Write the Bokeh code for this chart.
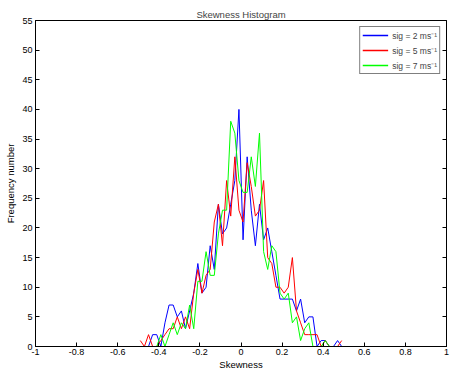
from bokeh.plotting import figure
from bokeh.models import Range1d, LinearAxis, FixedTicker, Legend, LegendItem
from bokeh.embed import file_html
from bokeh.resources import INLINE

# ---- data ----
bin_centers = [-0.49, -0.47, -0.45, -0.43, -0.41, -0.39, -0.37, -0.35, -0.33, -0.31,
               -0.29, -0.27, -0.25, -0.23, -0.21, -0.19, -0.17, -0.15, -0.13, -0.11,
               -0.09, -0.07, -0.05, -0.03, -0.01, 0.01, 0.03, 0.05, 0.07, 0.09,
               0.11, 0.13, 0.15, 0.17, 0.19, 0.21, 0.23, 0.25, 0.27, 0.29,
               0.31, 0.33, 0.35, 0.37, 0.39, 0.41, 0.43, 0.45, 0.47, 0.49]

sig2_counts = [0, 0, 0, 2, 2, 0, 4, 7, 7, 5, 6, 3, 6, 9, 14, 9, 10, 17, 13, 24, 19, 20, 24, 28, 40,
               18, 32, 23, 17, 24, 18, 20, 16, 12, 8, 8, 8, 8, 6, 8, 4, 5, 5, 0, 1, 1, 0, 0, 1, 0]
sig5_counts = [1, 0, 2, 0, 0, 1, 2, 3, 3, 5, 3, 5, 3, 9, 13, 9, 12, 13, 21, 24, 17, 28, 22, 32, 23,
               21, 31, 27, 22, 23, 28, 15, 14, 10, 10, 9, 10, 15, 6, 4, 2, 2, 2, 2, 0, 1, 0, 0, 0, 1]
sig7_counts = [0, 0, 0, 0, 0, 2, 0, 2, 4, 2, 4, 3, 7, 3, 11, 11, 16, 12, 12, 19, 23, 23, 38, 36, 28,
               26, 26, 32, 27, 36, 16, 13, 17, 16, 9, 8, 9, 4, 5, 1, 3, 4, 0, 0, 0, 1, 0, 0, 0, 0]

series_labels = ["sig = 2 ms\u207b\u00b9", "sig = 5 ms\u207b\u00b9", "sig = 7 ms\u207b\u00b9"]
series_colors = ["#0000ff", "#ff0000", "#00ff00"]

x_ticks = [-1, -0.8, -0.6, -0.4, -0.2, 0, 0.2, 0.4, 0.6, 0.8, 1]
x_tick_labels = ["-1", "-0.8", "-0.6", "-0.4", "-0.2", "0", "0.2", "0.4", "0.6", "0.8", "1"]
y_ticks = [0, 5, 10, 15, 20, 25, 30, 35, 40, 45, 50, 55]

FONT = "Liberation Sans"

p = figure(width=450, height=372, x_range=Range1d(-1, 1), y_range=Range1d(0, 55),
           output_backend="svg", toolbar_location=None, title="Skewness Histogram",
           min_border_left=35, min_border_right=4, min_border_top=20, min_border_bottom=0)

p.title.align = "center"
p.title.text_font = FONT
p.title.text_font_size = "9.5px"
p.title.text_font_style = "normal"
p.title.standoff = 2

p.xgrid.visible = False
p.ygrid.visible = False
p.outline_line_color = "black"
p.outline_line_width = 1
p.background_fill_color = "white"
p.border_fill_color = "white"

for ax in (p.xaxis[0], p.yaxis[0]):
    ax.major_tick_in = 4
    ax.major_tick_out = 0
    ax.minor_tick_line_color = None
    ax.axis_line_color = "black"
    ax.major_tick_line_color = "black"
    ax.major_label_text_font = FONT
    ax.major_label_text_font_size = "9px"
    ax.major_label_text_color = "black"
    ax.axis_label_text_font = FONT
    ax.axis_label_text_font_size = "9.5px"
    ax.axis_label_text_font_style = "normal"
    ax.axis_label_text_color = "black"

p.xaxis.ticker = FixedTicker(ticks=x_ticks)
p.xaxis.major_label_overrides = {t: l for t, l in zip(x_ticks, x_tick_labels)}
p.xaxis.axis_label = "Skewness"
p.xaxis.major_label_standoff = 2
p.xaxis.axis_label_standoff = 1

p.yaxis.ticker = FixedTicker(ticks=y_ticks)
p.yaxis.axis_label = "Frequency number"
p.yaxis.major_label_standoff = 3
p.yaxis.axis_label_standoff = 3

right_axis = LinearAxis(ticker=FixedTicker(ticks=y_ticks),
                        major_label_overrides={t: "" for t in y_ticks},
                        major_label_standoff=0, major_tick_in=4, major_tick_out=0,
                        minor_tick_line_color=None, axis_line_color="black")
p.add_layout(right_axis, "right")

legend_items = []
for counts, color, lab in zip([sig2_counts, sig5_counts, sig7_counts], series_colors, series_labels):
    p.line(bin_centers, counts, line_color=color, line_width=1)
    # legend swatch renderer: a single undefined point, so nothing is drawn in the plot
    key = p.line(x=[float("nan")], y=[float("nan")], line_color=color, line_width=1.5)
    legend_items.append(LegendItem(label=lab, renderers=[key]))

lg = Legend(items=legend_items, location="top_right", margin=6, padding=2, spacing=3,
            glyph_width=26, glyph_height=12, label_height=12, label_standoff=4,
            label_text_font=FONT, label_text_font_size="8.5px",
            border_line_color="black", border_line_width=1, background_fill_alpha=1)
p.add_layout(lg)

open("out.html", "w").write(file_html(p, INLINE))
